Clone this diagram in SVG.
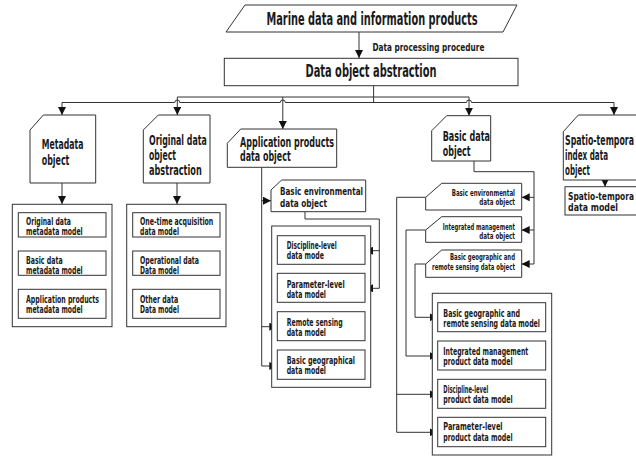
<svg xmlns="http://www.w3.org/2000/svg" width="636" height="456" viewBox="0 0 636 456">
<defs>
<marker id="ah" viewBox="0 0 10 10" refX="10" refY="5" markerWidth="8" markerHeight="8" markerUnits="userSpaceOnUse" orient="auto"><path d="M0,0 L10,5 L0,10 z" fill="#111"/></marker>
<style>
.s{fill:#fff;stroke:#333;stroke-width:1}
.c{fill:none;stroke:#333;stroke-width:1}
.a{fill:none;stroke:#333;stroke-width:1;marker-end:url(#ah)}
text{font-family:"DejaVu Sans Condensed","DejaVu Sans",sans-serif;font-weight:bold;fill:#1a1a1a;font-stretch:condensed}
.f18{font-size:18px}.f15{font-size:14px}.f13{font-size:11px}.f12{font-size:10px}.f11{font-size:10px}.f9{font-size:8.5px}
.e{text-anchor:end}.m{text-anchor:middle}
</style>
</defs>
<rect width="636" height="456" fill="#fff"/>

<g id="connectors">
<path class="a" d="M359,32 V58"/>
<path class="c" d="M373.6,86 V102.5"/>
<path class="c" d="M177.3,97 H469"/>
<path class="c" d="M62,102.5 H174.8 A2.5,2.5 0 0 1 179.8,102.5 H280.3 A2.5,2.5 0 0 1 285.3,102.5 H466.5 A2.5,2.5 0 0 1 471.5,102.5 H614"/>
<path class="a" d="M62,102.5 V115"/>
<path class="a" d="M177.3,97 V115"/>
<path class="a" d="M282.8,97 V129"/>
<path class="a" d="M469,97 V115.7"/>
<path class="a" d="M614,102.5 V115"/>
<path class="a" d="M62,183 V204"/>
<path class="a" d="M177,183 V204"/>
<path class="c" d="M261.7,167.3 V366"/>
<path class="a" d="M261.7,200.7 H271"/>
<path class="a" d="M261.7,326.7 H277.3"/>
<path class="a" d="M261.7,366 H277.3"/>
<path class="c" d="M305,211.7 V219 H379.3 V288.3"/>
<path class="a" d="M379.3,250.7 H365"/>
<path class="a" d="M379.3,288.3 H365"/>
<path class="c" d="M474,161 V171.7 H534 V264"/>
<path class="a" d="M534,197.3 H521.7"/>
<path class="a" d="M534,230 H521.7"/>
<path class="a" d="M534,264 H521.7"/>
<path class="a" d="M425.7,197.3 H396.7 V432.3 H437.7"/>
<path class="a" d="M396.7,394.3 H437.7"/>
<path class="a" d="M425.7,230 H406 V356 H437.7"/>
<path class="a" d="M425.7,264 H415 V317.3 H437.7"/>
<path class="a" d="M605,180 V186.7"/>
</g>

<g id="marine">
<polygon class="s" points="245,5 517,5 503,32 226,32"/>
<text class="f18 m" x="372" y="24.5" textLength="211" lengthAdjust="spacingAndGlyphs">Marine data and information products</text>
</g>
<g id="proc-label">
<text class="f11" x="372.4" y="50.5" textLength="112" lengthAdjust="spacingAndGlyphs">Data processing procedure</text>
</g>
<g id="abstraction">
<rect class="s" x="224.3" y="58.3" width="293.7" height="27.4"/>
<text class="f18 m" x="371" y="77" textLength="131" lengthAdjust="spacingAndGlyphs">Data object abstraction</text>
</g>

<g id="metadata-object">
<path class="s" d="M30,130 L43.3,115 H95.7 V183 H30 Z"/>
<text class="f15" x="41.7" y="148.8" textLength="41.7" lengthAdjust="spacingAndGlyphs">Metadata</text>
<text class="f15" x="41.7" y="164.8" textLength="27.7" lengthAdjust="spacingAndGlyphs">object</text>
</g>
<g id="metadata-models">
<rect class="s" x="12.3" y="204.3" width="99.7" height="122.4"/>
<rect class="s" x="18.3" y="212.7" width="87.7" height="24.3"/>
<text class="f11" x="26" y="225.4" textLength="45" lengthAdjust="spacingAndGlyphs">Original data</text>
<text class="f11" x="26" y="235.4" textLength="56.7" lengthAdjust="spacingAndGlyphs">metadata model</text>
<rect class="s" x="18.3" y="251" width="87.7" height="24.3"/>
<text class="f11" x="26" y="263.8" textLength="36.7" lengthAdjust="spacingAndGlyphs">Basic data</text>
<text class="f11" x="26" y="273.8" textLength="56.7" lengthAdjust="spacingAndGlyphs">metadata model</text>
<rect class="s" x="18.3" y="289.3" width="87.7" height="29"/>
<text class="f11" x="26" y="302.6" textLength="73" lengthAdjust="spacingAndGlyphs">Application products</text>
<text class="f11" x="26" y="312.8" textLength="56.7" lengthAdjust="spacingAndGlyphs">metadata model</text>
</g>

<g id="original-object">
<path class="s" d="M143.3,130 L158.3,115 H210 V183 H143.3 Z"/>
<text class="f15" x="149" y="144.8" textLength="57.7" lengthAdjust="spacingAndGlyphs">Original data</text>
<text class="f15" x="149" y="159.8" textLength="27" lengthAdjust="spacingAndGlyphs">object</text>
<text class="f15" x="149" y="174.8" textLength="52.7" lengthAdjust="spacingAndGlyphs">abstraction</text>
</g>
<g id="original-models">
<rect class="s" x="126.7" y="204.3" width="99.3" height="122.4"/>
<rect class="s" x="132.7" y="212.7" width="87.3" height="24.3"/>
<text class="f11" x="140" y="225.4" textLength="73.3" lengthAdjust="spacingAndGlyphs">One-time acquisition</text>
<text class="f11" x="140" y="235.4" textLength="39" lengthAdjust="spacingAndGlyphs">data model</text>
<rect class="s" x="132.7" y="251" width="87.3" height="24.3"/>
<text class="f11" x="140" y="263.8" textLength="59" lengthAdjust="spacingAndGlyphs">Operational data</text>
<text class="f11" x="140" y="273.8" textLength="39" lengthAdjust="spacingAndGlyphs">Data model</text>
<rect class="s" x="132.7" y="289.3" width="87.3" height="29"/>
<text class="f11" x="140" y="302.6" textLength="38.3" lengthAdjust="spacingAndGlyphs">Other data</text>
<text class="f11" x="140" y="312.8" textLength="39" lengthAdjust="spacingAndGlyphs">Data model</text>
</g>

<g id="application-object">
<path class="s" d="M227.3,143.3 L240.7,129 H336.7 V167.3 H227.3 Z"/>
<text class="f15" x="240" y="146.5" textLength="94" lengthAdjust="spacingAndGlyphs">Application products</text>
<text class="f15" x="240" y="161" textLength="50.7" lengthAdjust="spacingAndGlyphs">data object</text>
</g>
<g id="app-basic-env">
<path class="s" d="M271,190 L281.7,180 H365.7 V211.7 H271 Z"/>
<text class="f13" x="280" y="195.2" textLength="83" lengthAdjust="spacingAndGlyphs">Basic environmental</text>
<text class="f13" x="280" y="207.2" textLength="47" lengthAdjust="spacingAndGlyphs">data object</text>
</g>
<g id="app-models">
<rect class="s" x="271.7" y="226" width="99" height="161.3"/>
<rect class="s" x="277.3" y="235.7" width="87.7" height="28.6"/>
<text class="f11" x="286.7" y="249.3" textLength="50" lengthAdjust="spacingAndGlyphs">Discipline-level</text>
<text class="f11" x="286.7" y="259.3" textLength="37.3" lengthAdjust="spacingAndGlyphs">data mode</text>
<rect class="s" x="277.3" y="273.3" width="87.7" height="29"/>
<text class="f11" x="286.7" y="287.6" textLength="58" lengthAdjust="spacingAndGlyphs">Parameter-level</text>
<text class="f11" x="286.7" y="297.6" textLength="39.3" lengthAdjust="spacingAndGlyphs">data model</text>
<rect class="s" x="277.3" y="311.7" width="87.7" height="29"/>
<text class="f11" x="286.7" y="325.6" textLength="56" lengthAdjust="spacingAndGlyphs">Remote sensing</text>
<text class="f11" x="286.7" y="335.6" textLength="39.3" lengthAdjust="spacingAndGlyphs">data model</text>
<rect class="s" x="277.3" y="350" width="87.7" height="29.3"/>
<text class="f11" x="286.7" y="363.6" textLength="68.3" lengthAdjust="spacingAndGlyphs">Basic geographical</text>
<text class="f11" x="286.7" y="373.6" textLength="39.3" lengthAdjust="spacingAndGlyphs">data model</text>
</g>

<g id="basic-data-object">
<path class="s" d="M431.7,130.7 L446.7,115.7 H490.7 V161 H431.7 Z"/>
<text class="f15" x="442.7" y="140.5" textLength="47.3" lengthAdjust="spacingAndGlyphs">Basic data</text>
<text class="f15" x="442.7" y="156.2" textLength="28" lengthAdjust="spacingAndGlyphs">object</text>
</g>
<g id="bd-env">
<path class="s" d="M425.7,197.3 L441.7,183.3 H521.7 V210 H425.7 Z"/>
<text class="f9 e" x="515" y="196.3" textLength="63.3" lengthAdjust="spacingAndGlyphs">Basic environmental</text>
<text class="f9 e" x="515" y="205" textLength="35.7" lengthAdjust="spacingAndGlyphs">data object</text>
</g>
<g id="bd-integrated">
<path class="s" d="M425.7,230 L441.7,216.7 H521.7 V242.3 H425.7 Z"/>
<text class="f9 e" x="515" y="230.3" textLength="72.3" lengthAdjust="spacingAndGlyphs">Integrated management</text>
<text class="f9 e" x="515" y="239.3" textLength="35.7" lengthAdjust="spacingAndGlyphs">data object</text>
</g>
<g id="bd-geo">
<path class="s" d="M425.7,264 L441.7,250 H521.7 V277.3 H425.7 Z"/>
<text class="f9 e" x="515" y="260.3" textLength="65" lengthAdjust="spacingAndGlyphs">Basic geographic and</text>
<text class="f9 e" x="515" y="270" textLength="83" lengthAdjust="spacingAndGlyphs">remote sensing data object</text>
</g>
<g id="bd-models">
<rect class="s" x="432.3" y="293.3" width="119.4" height="161.7"/>
<rect class="s" x="437.7" y="302.7" width="108" height="29"/>
<text class="f12" x="443.3" y="316.8" textLength="76.7" lengthAdjust="spacingAndGlyphs">Basic geographic and</text>
<text class="f12" x="443.3" y="327.4" textLength="96.7" lengthAdjust="spacingAndGlyphs">remote sensing data model</text>
<rect class="s" x="437.7" y="341" width="108" height="29"/>
<text class="f12" x="443.3" y="354.5" textLength="85" lengthAdjust="spacingAndGlyphs">Integrated management</text>
<text class="f12" x="443.3" y="364.8" textLength="69.3" lengthAdjust="spacingAndGlyphs">product data model</text>
<rect class="s" x="437.7" y="379.3" width="108" height="29"/>
<text class="f12" x="443.3" y="392.8" textLength="45" lengthAdjust="spacingAndGlyphs">Discipline-level</text>
<text class="f12" x="443.3" y="403.4" textLength="69.3" lengthAdjust="spacingAndGlyphs">product data model</text>
<rect class="s" x="437.7" y="417.3" width="108" height="29.4"/>
<text class="f12" x="443.3" y="430.4" textLength="59.3" lengthAdjust="spacingAndGlyphs">Parameter-level</text>
<text class="f12" x="443.3" y="440.9" textLength="69.3" lengthAdjust="spacingAndGlyphs">product data model</text>
</g>

<g id="spatio-object">
<path class="s" d="M563.3,131.7 L578.3,115 H645 V180 H563.3 Z"/>
<text class="f15" x="565" y="145" textLength="69" lengthAdjust="spacingAndGlyphs">Spatio-tempora</text>
<text class="f15" x="565" y="159.5" textLength="43" lengthAdjust="spacingAndGlyphs">index data</text>
<text class="f15" x="565" y="174.5" textLength="25" lengthAdjust="spacingAndGlyphs">object</text>
</g>
<g id="spatio-model">
<rect class="s" x="565" y="186.7" width="80" height="28.3"/>
<text class="f12" x="568" y="200.3" textLength="66" lengthAdjust="spacingAndGlyphs">Spatio-tempora</text>
<text class="f12" x="568" y="210.8" textLength="50" lengthAdjust="spacingAndGlyphs">data model</text>
</g>
</svg>
